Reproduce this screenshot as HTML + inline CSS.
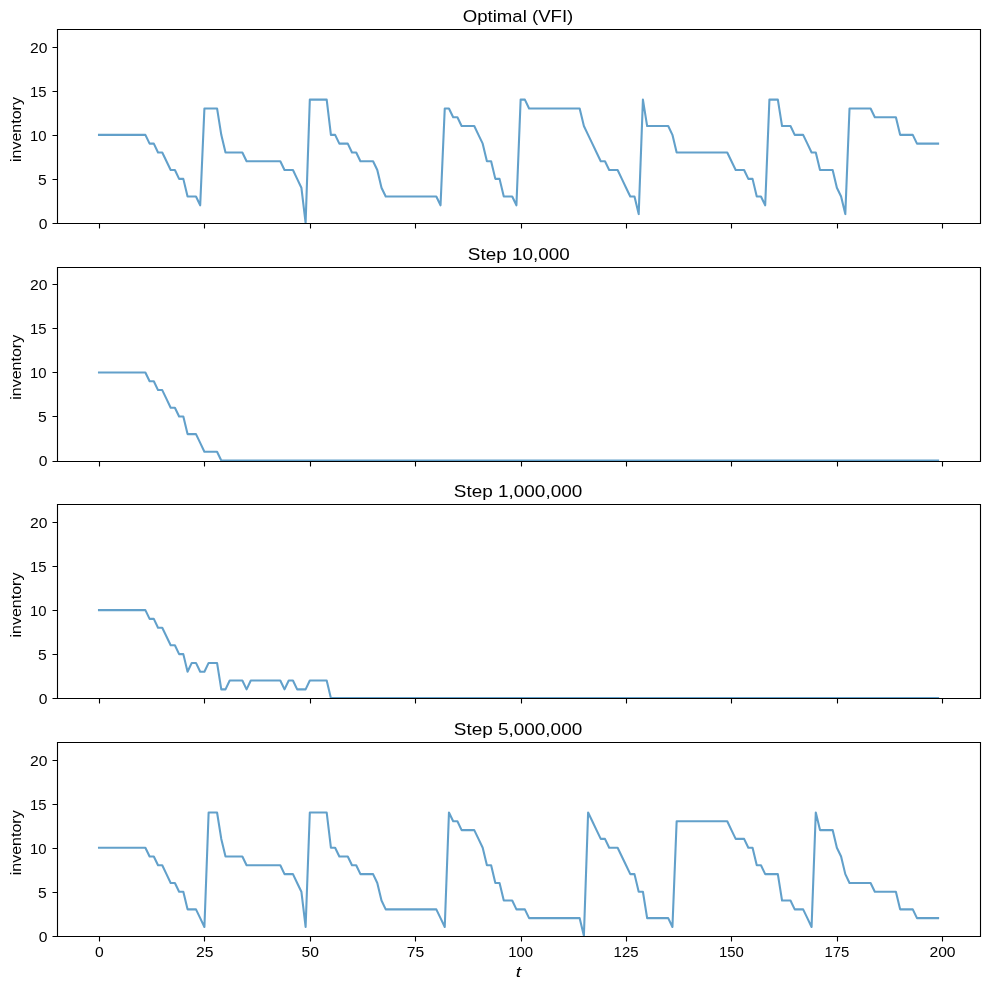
<!DOCTYPE html><html><head><meta charset="utf-8"><style>html,body{margin:0;padding:0;background:#fff;width:989px;height:989px;overflow:hidden}svg{display:block;will-change:transform}text{fill:#000}</style></head><body><svg width="989" height="989" viewBox="0 0 989 989"><rect width="989" height="989" fill="#fff"/><defs><clipPath id="c0"><rect x="57" y="29" width="923" height="194"/></clipPath><clipPath id="c1"><rect x="57" y="267" width="923" height="194"/></clipPath><clipPath id="c2"><rect x="57" y="504" width="923" height="194"/></clipPath><clipPath id="c3"><rect x="57" y="742" width="923" height="194"/></clipPath></defs><polyline clip-path="url(#c0)" points="99.00,134.85 103.22,134.85 107.44,134.85 111.65,134.85 115.87,134.85 120.09,134.85 124.30,134.85 128.52,134.85 132.73,134.85 136.95,134.85 141.17,134.85 145.38,134.85 149.60,143.66 153.82,143.66 158.03,152.46 162.25,152.46 166.47,161.27 170.68,170.07 174.90,170.07 179.11,178.88 183.33,178.88 187.55,196.49 191.76,196.49 195.98,196.49 200.20,205.29 204.41,108.44 208.63,108.44 212.85,108.44 217.06,108.44 221.28,134.85 225.50,152.46 229.71,152.46 233.93,152.46 238.14,152.46 242.36,152.46 246.58,161.27 250.79,161.27 255.01,161.27 259.23,161.27 263.44,161.27 267.66,161.27 271.88,161.27 276.09,161.27 280.31,161.27 284.52,170.07 288.74,170.07 292.96,170.07 297.17,178.88 301.39,187.68 305.61,222.90 309.82,99.64 314.04,99.64 318.26,99.64 322.47,99.64 326.69,99.64 330.91,134.85 335.12,134.85 339.34,143.66 343.55,143.66 347.77,143.66 351.99,152.46 356.20,152.46 360.42,161.27 364.64,161.27 368.85,161.27 373.07,161.27 377.29,170.07 381.50,187.68 385.72,196.49 389.93,196.49 394.15,196.49 398.37,196.49 402.58,196.49 406.80,196.49 411.02,196.49 415.23,196.49 419.45,196.49 423.67,196.49 427.88,196.49 432.10,196.49 436.32,196.49 440.53,205.29 444.75,108.44 448.96,108.44 453.18,117.25 457.40,117.25 461.61,126.05 465.83,126.05 470.05,126.05 474.26,126.05 478.48,134.85 482.70,143.66 486.91,161.27 491.13,161.27 495.34,178.88 499.56,178.88 503.78,196.49 507.99,196.49 512.21,196.49 516.43,205.29 520.64,99.64 524.86,99.64 529.08,108.44 533.29,108.44 537.51,108.44 541.73,108.44 545.94,108.44 550.16,108.44 554.37,108.44 558.59,108.44 562.81,108.44 567.02,108.44 571.24,108.44 575.46,108.44 579.67,108.44 583.89,126.05 588.11,134.85 592.32,143.66 596.54,152.46 600.75,161.27 604.97,161.27 609.19,170.07 613.40,170.07 617.62,170.07 621.84,178.88 626.05,187.68 630.27,196.49 634.49,196.49 638.70,214.10 642.92,99.64 647.14,126.05 651.35,126.05 655.57,126.05 659.78,126.05 664.00,126.05 668.22,126.05 672.43,134.85 676.65,152.46 680.87,152.46 685.08,152.46 689.30,152.46 693.52,152.46 697.73,152.46 701.95,152.46 706.16,152.46 710.38,152.46 714.60,152.46 718.81,152.46 723.03,152.46 727.25,152.46 731.46,161.27 735.68,170.07 739.90,170.07 744.11,170.07 748.33,178.88 752.55,178.88 756.76,196.49 760.98,196.49 765.19,205.29 769.41,99.64 773.63,99.64 777.84,99.64 782.06,126.05 786.28,126.05 790.49,126.05 794.71,134.85 798.93,134.85 803.14,134.85 807.36,143.66 811.57,152.46 815.79,152.46 820.01,170.07 824.22,170.07 828.44,170.07 832.66,170.07 836.87,187.68 841.09,196.49 845.31,214.10 849.52,108.44 853.74,108.44 857.96,108.44 862.17,108.44 866.39,108.44 870.60,108.44 874.82,117.25 879.04,117.25 883.25,117.25 887.47,117.25 891.69,117.25 895.90,117.25 900.12,134.85 904.34,134.85 908.55,134.85 912.77,134.85 916.98,143.66 921.20,143.66 925.42,143.66 929.63,143.66 933.85,143.66 938.07,143.66" fill="none" stroke="#1f77b4" stroke-opacity="0.7" stroke-width="2.0833" stroke-linejoin="round" stroke-linecap="square"/><path d="M57.5,29.5H980.5V223.5H57.5Z" fill="none" stroke="#000" stroke-width="1.1111" stroke-linejoin="miter" stroke-linecap="square"/><path d="M52.50,223.5H57.5M52.50,179.5H57.5M52.50,135.5H57.5M52.50,91.5H57.5M52.50,47.5H57.5M99.5,223.5V228.50M204.5,223.5V228.50M310.5,223.5V228.50M415.5,223.5V228.50M521.5,223.5V228.50M626.5,223.5V228.50M731.5,223.5V228.50M837.5,223.5V228.50M942.5,223.5V228.50" stroke="#000" stroke-width="1.1111" fill="none"/><text transform="translate(38.646,228.750) scale(1.1200,1)" font-family="Liberation Sans, sans-serif" font-size="14.0">0</text><text transform="translate(37.903,184.727) scale(1.1200,1)" font-family="Liberation Sans, sans-serif" font-size="14.0">5</text><text transform="translate(29.946,140.705) scale(1.0650,1)" font-family="Liberation Sans, sans-serif" font-size="14.0">10</text><text transform="translate(29.946,96.682) scale(1.0650,1)" font-family="Liberation Sans, sans-serif" font-size="14.0">15</text><text transform="translate(30.022,52.659) scale(1.1200,1)" font-family="Liberation Sans, sans-serif" font-size="14.0">20</text><text transform="translate(20.900,162.104) rotate(-90) scale(1.1073,1)" font-family="Liberation Sans, sans-serif" font-size="14.5">inventory</text><text transform="translate(462.730,21.750) scale(1.1077,1)" font-family="Liberation Sans, sans-serif" font-size="16.8">Optimal (VFI)</text><polyline clip-path="url(#c1)" points="99.00,372.47 103.22,372.47 107.44,372.47 111.65,372.47 115.87,372.47 120.09,372.47 124.30,372.47 128.52,372.47 132.73,372.47 136.95,372.47 141.17,372.47 145.38,372.47 149.60,381.28 153.82,381.28 158.03,390.08 162.25,390.08 166.47,398.89 170.68,407.69 174.90,407.69 179.11,416.50 183.33,416.50 187.55,434.11 191.76,434.11 195.98,434.11 200.20,442.91 204.41,451.72 208.63,451.72 212.85,451.72 217.06,451.72 221.28,460.52 225.50,460.52 229.71,460.52 233.93,460.52 238.14,460.52 242.36,460.52 246.58,460.52 250.79,460.52 255.01,460.52 259.23,460.52 263.44,460.52 267.66,460.52 271.88,460.52 276.09,460.52 280.31,460.52 284.52,460.52 288.74,460.52 292.96,460.52 297.17,460.52 301.39,460.52 305.61,460.52 309.82,460.52 314.04,460.52 318.26,460.52 322.47,460.52 326.69,460.52 330.91,460.52 335.12,460.52 339.34,460.52 343.55,460.52 347.77,460.52 351.99,460.52 356.20,460.52 360.42,460.52 364.64,460.52 368.85,460.52 373.07,460.52 377.29,460.52 381.50,460.52 385.72,460.52 389.93,460.52 394.15,460.52 398.37,460.52 402.58,460.52 406.80,460.52 411.02,460.52 415.23,460.52 419.45,460.52 423.67,460.52 427.88,460.52 432.10,460.52 436.32,460.52 440.53,460.52 444.75,460.52 448.96,460.52 453.18,460.52 457.40,460.52 461.61,460.52 465.83,460.52 470.05,460.52 474.26,460.52 478.48,460.52 482.70,460.52 486.91,460.52 491.13,460.52 495.34,460.52 499.56,460.52 503.78,460.52 507.99,460.52 512.21,460.52 516.43,460.52 520.64,460.52 524.86,460.52 529.08,460.52 533.29,460.52 537.51,460.52 541.73,460.52 545.94,460.52 550.16,460.52 554.37,460.52 558.59,460.52 562.81,460.52 567.02,460.52 571.24,460.52 575.46,460.52 579.67,460.52 583.89,460.52 588.11,460.52 592.32,460.52 596.54,460.52 600.75,460.52 604.97,460.52 609.19,460.52 613.40,460.52 617.62,460.52 621.84,460.52 626.05,460.52 630.27,460.52 634.49,460.52 638.70,460.52 642.92,460.52 647.14,460.52 651.35,460.52 655.57,460.52 659.78,460.52 664.00,460.52 668.22,460.52 672.43,460.52 676.65,460.52 680.87,460.52 685.08,460.52 689.30,460.52 693.52,460.52 697.73,460.52 701.95,460.52 706.16,460.52 710.38,460.52 714.60,460.52 718.81,460.52 723.03,460.52 727.25,460.52 731.46,460.52 735.68,460.52 739.90,460.52 744.11,460.52 748.33,460.52 752.55,460.52 756.76,460.52 760.98,460.52 765.19,460.52 769.41,460.52 773.63,460.52 777.84,460.52 782.06,460.52 786.28,460.52 790.49,460.52 794.71,460.52 798.93,460.52 803.14,460.52 807.36,460.52 811.57,460.52 815.79,460.52 820.01,460.52 824.22,460.52 828.44,460.52 832.66,460.52 836.87,460.52 841.09,460.52 845.31,460.52 849.52,460.52 853.74,460.52 857.96,460.52 862.17,460.52 866.39,460.52 870.60,460.52 874.82,460.52 879.04,460.52 883.25,460.52 887.47,460.52 891.69,460.52 895.90,460.52 900.12,460.52 904.34,460.52 908.55,460.52 912.77,460.52 916.98,460.52 921.20,460.52 925.42,460.52 929.63,460.52 933.85,460.52 938.07,460.52" fill="none" stroke="#1f77b4" stroke-opacity="0.7" stroke-width="2.0833" stroke-linejoin="round" stroke-linecap="square"/><path d="M57.5,267.5H980.5V461.5H57.5Z" fill="none" stroke="#000" stroke-width="1.1111" stroke-linejoin="miter" stroke-linecap="square"/><path d="M52.50,461.5H57.5M52.50,416.5H57.5M52.50,372.5H57.5M52.50,328.5H57.5M52.50,284.5H57.5M99.5,461.5V466.50M204.5,461.5V466.50M310.5,461.5V466.50M415.5,461.5V466.50M521.5,461.5V466.50M626.5,461.5V466.50M731.5,461.5V466.50M837.5,461.5V466.50M942.5,461.5V466.50" stroke="#000" stroke-width="1.1111" fill="none"/><text transform="translate(38.646,466.370) scale(1.1200,1)" font-family="Liberation Sans, sans-serif" font-size="14.0">0</text><text transform="translate(37.903,422.347) scale(1.1200,1)" font-family="Liberation Sans, sans-serif" font-size="14.0">5</text><text transform="translate(29.946,378.325) scale(1.0650,1)" font-family="Liberation Sans, sans-serif" font-size="14.0">10</text><text transform="translate(29.946,334.302) scale(1.0650,1)" font-family="Liberation Sans, sans-serif" font-size="14.0">15</text><text transform="translate(30.022,290.279) scale(1.1200,1)" font-family="Liberation Sans, sans-serif" font-size="14.0">20</text><text transform="translate(20.900,399.854) rotate(-90) scale(1.1073,1)" font-family="Liberation Sans, sans-serif" font-size="14.5">inventory</text><text transform="translate(467.825,259.850) scale(1.1248,1)" font-family="Liberation Sans, sans-serif" font-size="16.8">Step 10,000</text><polyline clip-path="url(#c2)" points="99.00,610.09 103.22,610.09 107.44,610.09 111.65,610.09 115.87,610.09 120.09,610.09 124.30,610.09 128.52,610.09 132.73,610.09 136.95,610.09 141.17,610.09 145.38,610.09 149.60,618.90 153.82,618.90 158.03,627.70 162.25,627.70 166.47,636.51 170.68,645.31 174.90,645.31 179.11,654.12 183.33,654.12 187.55,671.73 191.76,662.92 195.98,662.92 200.20,671.73 204.41,671.73 208.63,662.92 212.85,662.92 217.06,662.92 221.28,689.34 225.50,689.34 229.71,680.53 233.93,680.53 238.14,680.53 242.36,680.53 246.58,689.34 250.79,680.53 255.01,680.53 259.23,680.53 263.44,680.53 267.66,680.53 271.88,680.53 276.09,680.53 280.31,680.53 284.52,689.34 288.74,680.53 292.96,680.53 297.17,689.34 301.39,689.34 305.61,689.34 309.82,680.53 314.04,680.53 318.26,680.53 322.47,680.53 326.69,680.53 330.91,698.14 335.12,698.14 339.34,698.14 343.55,698.14 347.77,698.14 351.99,698.14 356.20,698.14 360.42,698.14 364.64,698.14 368.85,698.14 373.07,698.14 377.29,698.14 381.50,698.14 385.72,698.14 389.93,698.14 394.15,698.14 398.37,698.14 402.58,698.14 406.80,698.14 411.02,698.14 415.23,698.14 419.45,698.14 423.67,698.14 427.88,698.14 432.10,698.14 436.32,698.14 440.53,698.14 444.75,698.14 448.96,698.14 453.18,698.14 457.40,698.14 461.61,698.14 465.83,698.14 470.05,698.14 474.26,698.14 478.48,698.14 482.70,698.14 486.91,698.14 491.13,698.14 495.34,698.14 499.56,698.14 503.78,698.14 507.99,698.14 512.21,698.14 516.43,698.14 520.64,698.14 524.86,698.14 529.08,698.14 533.29,698.14 537.51,698.14 541.73,698.14 545.94,698.14 550.16,698.14 554.37,698.14 558.59,698.14 562.81,698.14 567.02,698.14 571.24,698.14 575.46,698.14 579.67,698.14 583.89,698.14 588.11,698.14 592.32,698.14 596.54,698.14 600.75,698.14 604.97,698.14 609.19,698.14 613.40,698.14 617.62,698.14 621.84,698.14 626.05,698.14 630.27,698.14 634.49,698.14 638.70,698.14 642.92,698.14 647.14,698.14 651.35,698.14 655.57,698.14 659.78,698.14 664.00,698.14 668.22,698.14 672.43,698.14 676.65,698.14 680.87,698.14 685.08,698.14 689.30,698.14 693.52,698.14 697.73,698.14 701.95,698.14 706.16,698.14 710.38,698.14 714.60,698.14 718.81,698.14 723.03,698.14 727.25,698.14 731.46,698.14 735.68,698.14 739.90,698.14 744.11,698.14 748.33,698.14 752.55,698.14 756.76,698.14 760.98,698.14 765.19,698.14 769.41,698.14 773.63,698.14 777.84,698.14 782.06,698.14 786.28,698.14 790.49,698.14 794.71,698.14 798.93,698.14 803.14,698.14 807.36,698.14 811.57,698.14 815.79,698.14 820.01,698.14 824.22,698.14 828.44,698.14 832.66,698.14 836.87,698.14 841.09,698.14 845.31,698.14 849.52,698.14 853.74,698.14 857.96,698.14 862.17,698.14 866.39,698.14 870.60,698.14 874.82,698.14 879.04,698.14 883.25,698.14 887.47,698.14 891.69,698.14 895.90,698.14 900.12,698.14 904.34,698.14 908.55,698.14 912.77,698.14 916.98,698.14 921.20,698.14 925.42,698.14 929.63,698.14 933.85,698.14 938.07,698.14" fill="none" stroke="#1f77b4" stroke-opacity="0.7" stroke-width="2.0833" stroke-linejoin="round" stroke-linecap="square"/><path d="M57.5,504.5H980.5V698.5H57.5Z" fill="none" stroke="#000" stroke-width="1.1111" stroke-linejoin="miter" stroke-linecap="square"/><path d="M52.50,698.5H57.5M52.50,654.5H57.5M52.50,610.5H57.5M52.50,566.5H57.5M52.50,522.5H57.5M99.5,698.5V703.50M204.5,698.5V703.50M310.5,698.5V703.50M415.5,698.5V703.50M521.5,698.5V703.50M626.5,698.5V703.50M731.5,698.5V703.50M837.5,698.5V703.50M942.5,698.5V703.50" stroke="#000" stroke-width="1.1111" fill="none"/><text transform="translate(38.646,703.990) scale(1.1200,1)" font-family="Liberation Sans, sans-serif" font-size="14.0">0</text><text transform="translate(37.903,659.967) scale(1.1200,1)" font-family="Liberation Sans, sans-serif" font-size="14.0">5</text><text transform="translate(29.946,615.945) scale(1.0650,1)" font-family="Liberation Sans, sans-serif" font-size="14.0">10</text><text transform="translate(29.946,571.922) scale(1.0650,1)" font-family="Liberation Sans, sans-serif" font-size="14.0">15</text><text transform="translate(30.022,527.899) scale(1.1200,1)" font-family="Liberation Sans, sans-serif" font-size="14.0">20</text><text transform="translate(20.900,637.604) rotate(-90) scale(1.1073,1)" font-family="Liberation Sans, sans-serif" font-size="14.5">inventory</text><text transform="translate(453.823,496.850) scale(1.1276,1)" font-family="Liberation Sans, sans-serif" font-size="16.8">Step 1,000,000</text><polyline clip-path="url(#c3)" points="99.00,847.71 103.22,847.71 107.44,847.71 111.65,847.71 115.87,847.71 120.09,847.71 124.30,847.71 128.52,847.71 132.73,847.71 136.95,847.71 141.17,847.71 145.38,847.71 149.60,856.52 153.82,856.52 158.03,865.32 162.25,865.32 166.47,874.13 170.68,882.93 174.90,882.93 179.11,891.74 183.33,891.74 187.55,909.35 191.76,909.35 195.98,909.35 200.20,918.15 204.41,926.96 208.63,812.50 212.85,812.50 217.06,812.50 221.28,838.91 225.50,856.52 229.71,856.52 233.93,856.52 238.14,856.52 242.36,856.52 246.58,865.32 250.79,865.32 255.01,865.32 259.23,865.32 263.44,865.32 267.66,865.32 271.88,865.32 276.09,865.32 280.31,865.32 284.52,874.13 288.74,874.13 292.96,874.13 297.17,882.93 301.39,891.74 305.61,926.96 309.82,812.50 314.04,812.50 318.26,812.50 322.47,812.50 326.69,812.50 330.91,847.71 335.12,847.71 339.34,856.52 343.55,856.52 347.77,856.52 351.99,865.32 356.20,865.32 360.42,874.13 364.64,874.13 368.85,874.13 373.07,874.13 377.29,882.93 381.50,900.54 385.72,909.35 389.93,909.35 394.15,909.35 398.37,909.35 402.58,909.35 406.80,909.35 411.02,909.35 415.23,909.35 419.45,909.35 423.67,909.35 427.88,909.35 432.10,909.35 436.32,909.35 440.53,918.15 444.75,926.96 448.96,812.50 453.18,821.30 457.40,821.30 461.61,830.11 465.83,830.11 470.05,830.11 474.26,830.11 478.48,838.91 482.70,847.71 486.91,865.32 491.13,865.32 495.34,882.93 499.56,882.93 503.78,900.54 507.99,900.54 512.21,900.54 516.43,909.35 520.64,909.35 524.86,909.35 529.08,918.15 533.29,918.15 537.51,918.15 541.73,918.15 545.94,918.15 550.16,918.15 554.37,918.15 558.59,918.15 562.81,918.15 567.02,918.15 571.24,918.15 575.46,918.15 579.67,918.15 583.89,935.76 588.11,812.50 592.32,821.30 596.54,830.11 600.75,838.91 604.97,838.91 609.19,847.71 613.40,847.71 617.62,847.71 621.84,856.52 626.05,865.32 630.27,874.13 634.49,874.13 638.70,891.74 642.92,891.74 647.14,918.15 651.35,918.15 655.57,918.15 659.78,918.15 664.00,918.15 668.22,918.15 672.43,926.96 676.65,821.30 680.87,821.30 685.08,821.30 689.30,821.30 693.52,821.30 697.73,821.30 701.95,821.30 706.16,821.30 710.38,821.30 714.60,821.30 718.81,821.30 723.03,821.30 727.25,821.30 731.46,830.11 735.68,838.91 739.90,838.91 744.11,838.91 748.33,847.71 752.55,847.71 756.76,865.32 760.98,865.32 765.19,874.13 769.41,874.13 773.63,874.13 777.84,874.13 782.06,900.54 786.28,900.54 790.49,900.54 794.71,909.35 798.93,909.35 803.14,909.35 807.36,918.15 811.57,926.96 815.79,812.50 820.01,830.11 824.22,830.11 828.44,830.11 832.66,830.11 836.87,847.71 841.09,856.52 845.31,874.13 849.52,882.93 853.74,882.93 857.96,882.93 862.17,882.93 866.39,882.93 870.60,882.93 874.82,891.74 879.04,891.74 883.25,891.74 887.47,891.74 891.69,891.74 895.90,891.74 900.12,909.35 904.34,909.35 908.55,909.35 912.77,909.35 916.98,918.15 921.20,918.15 925.42,918.15 929.63,918.15 933.85,918.15 938.07,918.15" fill="none" stroke="#1f77b4" stroke-opacity="0.7" stroke-width="2.0833" stroke-linejoin="round" stroke-linecap="square"/><path d="M57.5,742.5H980.5V936.5H57.5Z" fill="none" stroke="#000" stroke-width="1.1111" stroke-linejoin="miter" stroke-linecap="square"/><path d="M52.50,936.5H57.5M52.50,892.5H57.5M52.50,848.5H57.5M52.50,804.5H57.5M52.50,760.5H57.5M99.5,936.5V941.50M204.5,936.5V941.50M310.5,936.5V941.50M415.5,936.5V941.50M521.5,936.5V941.50M626.5,936.5V941.50M731.5,936.5V941.50M837.5,936.5V941.50M942.5,936.5V941.50" stroke="#000" stroke-width="1.1111" fill="none"/><text transform="translate(38.646,941.610) scale(1.1200,1)" font-family="Liberation Sans, sans-serif" font-size="14.0">0</text><text transform="translate(37.903,897.587) scale(1.1200,1)" font-family="Liberation Sans, sans-serif" font-size="14.0">5</text><text transform="translate(29.946,853.565) scale(1.0650,1)" font-family="Liberation Sans, sans-serif" font-size="14.0">10</text><text transform="translate(29.946,809.542) scale(1.0650,1)" font-family="Liberation Sans, sans-serif" font-size="14.0">15</text><text transform="translate(30.022,765.519) scale(1.1200,1)" font-family="Liberation Sans, sans-serif" font-size="14.0">20</text><text transform="translate(20.900,875.354) rotate(-90) scale(1.1073,1)" font-family="Liberation Sans, sans-serif" font-size="14.5">inventory</text><text transform="translate(453.752,734.850) scale(1.1282,1)" font-family="Liberation Sans, sans-serif" font-size="16.8">Step 5,000,000</text><text transform="translate(94.913,956.700) scale(1.1200,1)" font-family="Liberation Sans, sans-serif" font-size="14.0">0</text><text transform="translate(195.932,956.700) scale(1.1200,1)" font-family="Liberation Sans, sans-serif" font-size="14.0">25</text><text transform="translate(301.421,956.700) scale(1.1200,1)" font-family="Liberation Sans, sans-serif" font-size="14.0">50</text><text transform="translate(406.752,956.700) scale(1.1200,1)" font-family="Liberation Sans, sans-serif" font-size="14.0">75</text><text transform="translate(508.195,956.700) scale(1.0650,1)" font-family="Liberation Sans, sans-serif" font-size="14.0">100</text><text transform="translate(613.605,956.700) scale(1.0650,1)" font-family="Liberation Sans, sans-serif" font-size="14.0">125</text><text transform="translate(719.015,956.700) scale(1.0650,1)" font-family="Liberation Sans, sans-serif" font-size="14.0">150</text><text transform="translate(824.425,956.700) scale(1.0650,1)" font-family="Liberation Sans, sans-serif" font-size="14.0">175</text><text transform="translate(929.412,956.700) scale(1.1200,1)" font-family="Liberation Sans, sans-serif" font-size="14.0">200</text><text transform="translate(515.838,976.653) scale(1.3082,1)" font-family="Liberation Sans, sans-serif" font-size="14.7" font-style="italic">t</text></svg></body></html>
